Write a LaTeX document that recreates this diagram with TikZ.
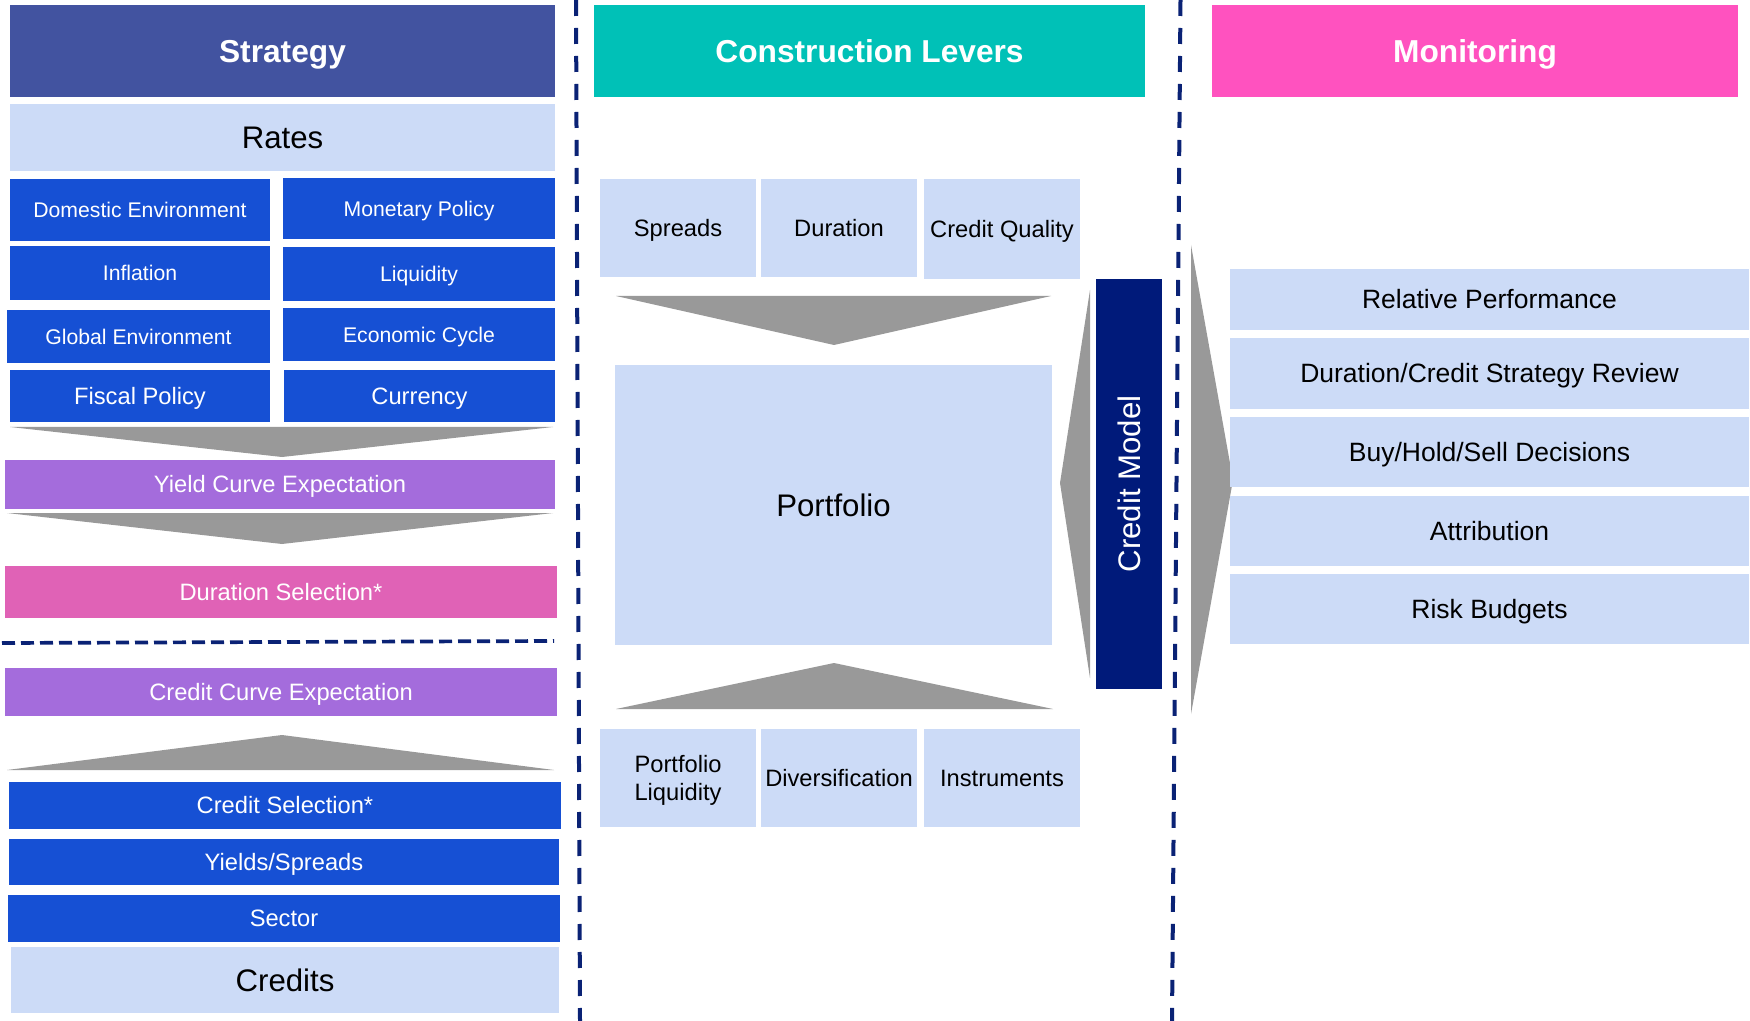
\documentclass[tikz,border=0pt]{standalone}
\usepackage{fontspec}
\setmainfont{Liberation Sans}
\definecolor{cstrat}{HTML}{4253A0}
\definecolor{clight}{HTML}{CCDBF7}
\definecolor{cblue}{HTML}{1650D4}
\definecolor{cpurple}{HTML}{A46CDC}
\definecolor{cpink}{HTML}{E062B6}
\definecolor{cteal}{HTML}{00C1B7}
\definecolor{cmag}{HTML}{FF52BF}
\definecolor{cnavy}{HTML}{001A7A}
\definecolor{cdash}{HTML}{0A2275}
\definecolor{cgray}{HTML}{999999}
\newcommand\bx[7]{\node[#6, anchor=north west, minimum width={0.5pt*(#4-#2)}, minimum height={0.5pt*(#5-#3)}] (#1) at (#2,#3) {#7};}
\tikzset{
  base/.style={inner sep=0pt, outer sep=0pt, align=center},
  hdr/.style={base, text=white, font=\fontsize{15.85}{19}\selectfont\bfseries, text height=11.35pt, text depth=0pt},
  lgt/.style={base, fill=clight, text=black},
  big/.style={font=\fontsize{15.6}{18.7}\selectfont, text height=11.17pt, text depth=0pt},
  med/.style={font=\fontsize{11.85}{14.1}\selectfont, text height=8.48pt, text depth=0pt},
  sml/.style={font=\fontsize{10.6}{12.7}\selectfont, text height=7.59pt, text depth=0pt},
  mon/.style={font=\fontsize{13.25}{15.9}\selectfont, text height=9.49pt, text depth=0pt},
  bluebox/.style={base, fill=cblue, text=white},
  purbox/.style={base, fill=cpurple, text=white},
  arrowshape/.style={fill=cgray, draw=none},
  sep/.style={cdash, line width=2pt, dash pattern=on 8pt off 6pt},
}
\begin{document}
\begin{tikzpicture}[x=0.5pt,y=-0.5pt]
\useasboundingbox (0,0) rectangle (1750,1021);
% ---------- Strategy column
\bx{strat}{10}{5}{555}{97}{hdr, fill=cstrat}{Strategy}
\bx{rates}{10}{104}{555}{171}{lgt, big}{Rates}
\bx{dom}{10}{179}{270}{241}{bluebox, sml}{Domestic Environment}
\bx{monp}{283}{178}{555}{239}{bluebox, sml}{Monetary Policy}
\bx{infl}{10}{246}{270}{300}{bluebox, sml}{Inflation}
\bx{liq}{283}{247}{555}{301}{bluebox, sml}{Liquidity}
\bx{glob}{7}{310}{270}{363}{bluebox, sml}{Global Environment}
\bx{econ}{283}{308}{555}{361}{bluebox, sml}{Economic Cycle}
\bx{fisc}{10}{370}{270}{422}{bluebox, med}{Fiscal Policy}
\bx{curr}{284}{370}{555}{422}{bluebox, med}{Currency}
\fill[arrowshape] (10,427) -- (553,427) -- (282,457) -- cycle;
\bx{yce}{5}{460}{555}{509}{purbox, med}{Yield Curve Expectation}
\fill[arrowshape] (7,513) -- (553,513) -- (282,544) -- cycle;
\bx{dsel}{5}{566}{557}{618}{base, fill=cpink, text=white, med}{Duration Selection*}
\coordinate (hl) at (2,643);
\coordinate (hr) at (554,641);
\draw[cdash, line width=1.85pt, dash pattern=on 6.5pt off 3pt] (hl) -- (hr);
\bx{cce}{5}{668}{557}{716}{purbox, med}{Credit Curve Expectation}
\fill[arrowshape] (7,770) -- (554,770) -- (282,735) -- cycle;
\bx{csel}{9}{782}{561}{829}{bluebox, med}{Credit Selection*}
\bx{ys}{9}{839}{559}{885}{bluebox, med}{Yields/Spreads}
\bx{sec}{8}{895}{560}{942}{bluebox, med}{Sector}
\bx{cred}{11}{947}{559}{1013}{lgt, big}{Credits}
% ---------- separators
\coordinate (s1t) at (576,0);
\coordinate (s1b) at (580,1021);
\coordinate (s2t) at (1180.5,0);
\coordinate (s2b) at (1172,1021);
\draw[sep] (s1t) -- (s1b);
\draw[sep] (s2t) -- (s2b);
% ---------- Construction Levers column
\bx{cl}{594}{5}{1145}{97}{hdr, fill=cteal}{Construction Levers}
\bx{spr}{600}{179}{756}{277}{lgt, med}{Spreads}
\bx{dur}{761}{179}{917}{277}{lgt, med}{Duration}
\bx{cq}{924}{179}{1080}{279}{lgt, med}{Credit Quality}
\fill[arrowshape] (616,296) -- (1051,296) -- (834,345) -- cycle;
\bx{port}{615}{365}{1052}{645}{lgt, big}{Portfolio}
\fill[arrowshape] (616,709) -- (1053,709) -- (834,663) -- cycle;
\bx{pl}{600}{729}{756}{827}{lgt, med, text height=22.58pt, text depth=0pt}{Portfolio\\Liquidity}
\bx{div}{761}{729}{917}{827}{lgt, med}{Diversification}
\bx{ins}{924}{729}{1080}{827}{lgt, med}{Instruments}
\bx{cm}{1096}{279}{1162}{689}{base, fill=cnavy}{}
\node[inner sep=0pt, text=white, big, rotate=90] (cmt) at (cm.center) {Credit Model};
\fill[arrowshape] (1090,290) -- (1060,483) -- (1090,678) -- cycle;
% ---------- Monitoring column
\bx{monh}{1212}{5}{1738}{97}{hdr, fill=cmag}{Monitoring}
\fill[arrowshape] (1191,245) -- (1233,480) -- (1191,714) -- cycle;
\bx{rp}{1230}{269}{1749}{330}{lgt, mon}{Relative Performance}
\bx{dcsr}{1230}{338}{1749}{409}{lgt, mon}{Duration/Credit Strategy Review}
\bx{bhs}{1230}{417}{1749}{487}{lgt, mon}{Buy/Hold/Sell Decisions}
\bx{att}{1230}{496}{1749}{566}{lgt, mon}{Attribution}
\bx{rb}{1230}{574}{1749}{644}{lgt, mon}{Risk Budgets}
\end{tikzpicture}
\end{document}
